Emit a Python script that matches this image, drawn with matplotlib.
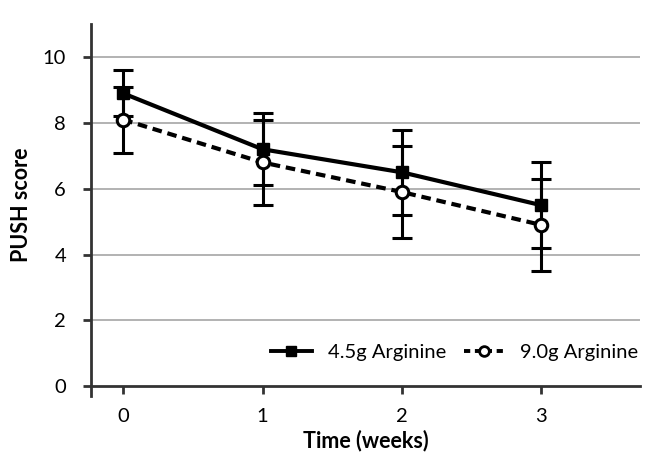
import matplotlib.pyplot as plt
from matplotlib.lines import Line2D

# --- Data ---
weeks = [0, 1, 2, 3]
arg45_mean = [8.9, 7.2, 6.5, 5.5]
arg45_err = [0.7, 1.1, 1.3, 1.3]
arg90_mean = [8.1, 6.8, 5.9, 4.9]
arg90_err = [1.0, 1.3, 1.4, 1.4]
y_ticks = [0, 2, 4, 6, 8, 10]
labels = ['4.5g Arginine', '9.0g Arginine']

plt.rcParams['font.family'] = ['Lato', 'DejaVu Sans']

fig = plt.figure(figsize=(6.46, 4.75), dpi=100)
ax = fig.add_axes([0.141, 0.187, 0.850, 0.762])

dash = (0, (2.3, 1.4))
ax.errorbar(weeks, arg45_mean, yerr=arg45_err, color='black', lw=3,
            marker='s', markersize=9, elinewidth=2.2, capsize=7, capthick=2.2,
            zorder=3)
ax.errorbar(weeks, arg90_mean, yerr=arg90_err, color='black', lw=3,
            linestyle=dash, marker='o', markersize=9,
            markerfacecolor='white', markeredgewidth=2.2,
            elinewidth=2.2, capsize=7, capthick=2.2, zorder=4)

ax.set_xlim(-0.23, 3.71)
ax.set_ylim(0, 11)
ax.set_xticks(weeks)
ax.set_yticks(y_ticks)
ax.tick_params(axis='both', direction='out', length=6, width=2,
               color='#333333', labelsize=14.5)
ax.tick_params(axis='x', pad=10)
ax.tick_params(axis='y', pad=12)

for y in y_ticks[1:]:
    ax.axhline(y, color='#a6a6a6', lw=1.2, zorder=1)

ax.spines['top'].set_visible(False)
ax.spines['right'].set_visible(False)
for side in ['left', 'bottom']:
    ax.spines[side].set_linewidth(2)
    ax.spines[side].set_color('#333333')
ax.spines['left'].set_bounds(-0.3, 11)

ax.set_xlabel('Time (weeks)', fontsize=15.5, fontweight='bold', labelpad=3)
ax.set_ylabel('PUSH score', fontsize=15.5, fontweight='bold', labelpad=8)

handles = [
    Line2D([], [], color='black', lw=2.8, marker='s', markersize=7),
    Line2D([], [], color='black', lw=2.8, linestyle=(0, (1.6, 1.2)),
           marker='o', markersize=7, markerfacecolor='white',
           markeredgewidth=2),
]
ax.legend(handles, labels, loc='lower right', bbox_to_anchor=(1.03, 0.02),
          ncol=2, frameon=False, fontsize=14.5, handlelength=2.0,
          columnspacing=0.9, handletextpad=0.8)

fig.savefig('out.png', dpi=100)
